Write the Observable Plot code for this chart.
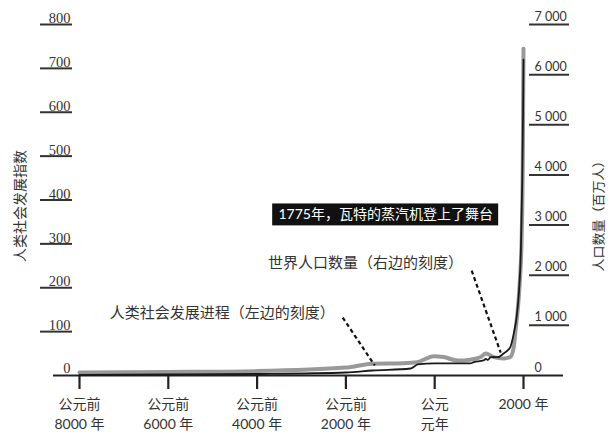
<!DOCTYPE html>
<html><head><meta charset="utf-8">
<script src="https://cdn.jsdelivr.net/npm/d3@7"></script>
<script src="https://cdn.jsdelivr.net/npm/@observablehq/plot@0.6"></script>
<style>body{margin:0;background:#fff} svg{display:block}</style>
</head><body><div id="chart"></div>
<script>
// Social development index (left scale)
const socialYears = [-8000, -6000, -4000, -2000, -1400, -700, -400, -20, 200, 520, 800, 1040, 1150, 1330, 1550, 1700, 1780, 1820, 1870, 1920, 1960, 1985, 2000];
const socialIndex = [7, 8, 10, 18, 27, 28, 30, 44, 42, 34, 36, 42, 50, 42, 39, 42, 64, 102, 150, 220, 320, 500, 745];
// World population, millions (right scale)
const popYears = [-8000, -4000, -2000, -1400, -540, -380, 0, 800, 880, 1100, 1150, 1200, 1260, 1420, 1550, 1700, 1780, 1850, 1900, 1940, 1970, 1990, 2000];
const popMillions = [10, 30, 60, 100, 140, 220, 240, 240, 265, 300, 330, 310, 365, 365, 440, 560, 835, 1200, 1700, 2450, 3800, 5200, 6300];
// Axes
const leftTicks = [0, 100, 200, 300, 400, 500, 600, 700, 800];
const rightTicks = [0, 1000, 2000, 3000, 4000, 5000, 6000, 7000];
const rightTickLabels = ["0", "1 000", "2 000", "3 000", "4 000", "5 000", "6 000", "7 000"];
const xTicks = [-8000, -6000, -4000, -2000, 0, 2000];
const xTickLabels = ["公元前\n8000 年", "公元前\n6000 年", "公元前\n4000 年", "公元前\n2000 年", "公元\n元年", "2000 年"];
const leftTitle = "人类社会发展指数";
const rightTitle = "人口数量（百万人）";
// Annotations
const noteTexts = [
  {x: -2250, y: 141, text: "人类社会发展进程（左边的刻度）"},
  {x: 640, y: 257, text: "世界人口数量（右边的刻度）"}
];
const noteLinks = [
  {x1: -2072, y1: 132, x2: -1351, y2: 23},
  {x1: 833, y1: 239, x2: 1486, y2: 52}
];
const boxNote = {x1: -3649, x2: 1441, y1: 341, y2: 391, x: -1104, y: 366, text: "1775年，瓦特的蒸汽机登上了舞台"};

const leftMax = 800, rightMax = 7000;
const ratio = leftMax / rightMax;
const social = socialYears.map((x, i) => ({x, y: socialIndex[i]}));
const pop = popYears.map((x, i) => ({x, y: popMillions[i] * ratio}));
const cjk = 'Lato, "Noto Sans CJK SC", sans-serif';

const chart = Plot.plot({
  width: 610, height: 435,
  marginLeft: 79, marginRight: 87, marginTop: 24, marginBottom: 60,
  x: {domain: [-8000, 2000]},
  y: {domain: [0, leftMax]},
  style: {fontFamily: cjk, background: "#fff", color: "#333"},
  marks: [
    // left axis underlines + labels
    Plot.axisY({ticks: leftTicks.filter(v => v > 0), anchor: "left", tickSize: 32, dx: -7, tickFormat: () => "", strokeWidth: 2, stroke: "#333"}),
    Plot.text(leftTicks.filter(v => v > 0), {y: d => d, frameAnchor: "left", textAnchor: "end", dx: -9, dy: -6, text: d => String(d), fontFamily: "Liberation Serif", fontSize: 14.5, fill: "#333", ariaLabel: "left-ticks"}),
    Plot.text([0], {y: d => d, frameAnchor: "left", textAnchor: "end", dx: -9, dy: -7, text: d => String(d), fontFamily: "Liberation Serif", fontSize: 14.5, fill: "#333"}),
    // right axis underlines + labels
    Plot.axisY({ticks: rightTicks.filter(v => v > 0).map(v => v * ratio), anchor: "right", tickSize: 40, dx: 5, tickFormat: () => "", strokeWidth: 2, stroke: "#333"}),
    Plot.text(rightTicks, {y: d => d * ratio, frameAnchor: "right", textAnchor: "start", dx: 11, dy: -8, text: (d, i) => rightTickLabels[i], fontFamily: "Lato", fontSize: 12.5, fill: "#333"}),
    // x axis
    Plot.ruleY([0], {insetLeft: -26, insetRight: -40, strokeWidth: 2, stroke: "#222"}),
    Plot.axisX({ticks: xTicks, tickSize: 14, strokeWidth: 2.2, stroke: "#222", tickPadding: 5, tickFormat: d => xTickLabels[xTicks.indexOf(d)], fontSize: 14, lineHeight: 1.45, fill: "#333", label: null}),
    // axis titles
    Plot.text([leftTitle], {text: d => d, frameAnchor: "left", textAnchor: "middle", dx: -59, dy: 6, rotate: -90, fontSize: 14, fill: "#333"}),
    Plot.text([rightTitle], {text: d => d, frameAnchor: "right", textAnchor: "middle", dx: 75, dy: 13, rotate: -90, fontSize: 13, fill: "#333"}),
    // data lines
    Plot.line(social, {x: "x", y: "y", stroke: "#999", strokeWidth: 4, curve: "monotone-x"}),
    Plot.line(pop, {x: "x", y: "y", stroke: "#1a1a1a", strokeWidth: 1.8, curve: "monotone-x"}),
    // annotations
    Plot.link(noteLinks, {x1: "x1", y1: "y1", x2: "x2", y2: "y2", stroke: "#111", strokeWidth: 2.2, strokeDasharray: "4,3"}),
    Plot.text(noteTexts, {x: "x", y: "y", text: "text", textAnchor: "end", fontSize: 15, fill: "#333"}),
    Plot.rect([boxNote], {x1: "x1", x2: "x2", y1: "y1", y2: "y2", fill: "#111"}),
    Plot.text([boxNote], {x: "x", y: "y", text: "text", fill: "#fff", fontSize: 14})
  ]
});
d3.select(chart).selectAll('g[aria-label="left-ticks"] text').style("letter-spacing", "0.5px");
document.getElementById("chart").append(chart);
</script>
</body></html>
